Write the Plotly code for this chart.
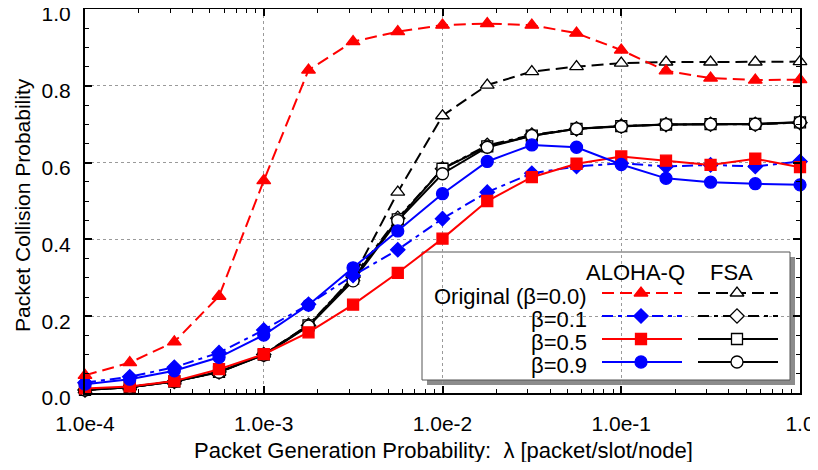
import plotly.graph_objects as go

# ---------------- data ----------------
lam = [1e-4, 1.78e-4, 3.16e-4, 5.62e-4, 1e-3, 1.78e-3, 3.16e-3, 5.62e-3, 1e-2,
       1.78e-2, 3.16e-2, 5.62e-2, 1e-1, 1.78e-1, 3.16e-1, 5.62e-1, 1.0]

aloha_b00 = [0.046, 0.079, 0.133, 0.252, 0.553, 0.841, 0.915, 0.941, 0.958,
             0.962, 0.958, 0.937, 0.893, 0.839, 0.820, 0.815, 0.816]
aloha_b01 = [0.027, 0.042, 0.067, 0.105, 0.164, 0.231, 0.306, 0.373, 0.454,
             0.523, 0.572, 0.590, 0.598, 0.590, 0.594, 0.590, 0.603]
aloha_b05 = [0.012, 0.017, 0.031, 0.062, 0.101, 0.158, 0.230, 0.313, 0.402,
             0.500, 0.562, 0.597, 0.616, 0.605, 0.594, 0.610, 0.588]
aloha_b09 = [0.023, 0.036, 0.058, 0.093, 0.151, 0.229, 0.326, 0.422, 0.519,
             0.603, 0.646, 0.640, 0.595, 0.559, 0.549, 0.545, 0.542]

fsa_b00 = [0.008, 0.016, 0.031, 0.054, 0.101, 0.177, 0.300, 0.523, 0.722,
           0.802, 0.837, 0.850, 0.859, 0.862, 0.862, 0.862, 0.863]
fsa_b01 = [0.008, 0.015, 0.030, 0.055, 0.100, 0.176, 0.302, 0.455, 0.584,
           0.645, 0.672, 0.688, 0.695, 0.699, 0.700, 0.700, 0.704]
fsa_b05 = [0.008, 0.015, 0.030, 0.055, 0.100, 0.176, 0.298, 0.452, 0.584,
           0.642, 0.670, 0.688, 0.695, 0.699, 0.700, 0.701, 0.705]
fsa_b09 = [0.008, 0.015, 0.030, 0.054, 0.099, 0.174, 0.292, 0.449, 0.571,
           0.640, 0.670, 0.688, 0.694, 0.699, 0.700, 0.700, 0.705]

y_ticks = [0.0, 0.2, 0.4, 0.6, 0.8, 1.0]
y_tick_labels = ["0.0", "0.2", "0.4", "0.6", "0.8", "1.0"]
x_ticks = [1e-4, 1e-3, 1e-2, 1e-1, 1.0]
x_tick_labels = ["1.0e-4", "1.0e-3", "1.0e-2", "1.0e-1", "1.0"]

legend_rows = ["Original (β=0.0)", "β=0.1", "β=0.5", "β=0.9"]
legend_headers = ["ALOHA-Q", "FSA"]
x_title = "Packet Generation Probability:  λ [packet/slot/node]"
y_title = "Packet Collision Probability"

RED = "#ff0000"
BLUE = "#0000ff"
BLACK = "#000000"
FONT = "Liberation Sans, Arial, sans-serif"
DASH = "12px,6px"
DASHDOT = "11px,5px,4px,5px"

# (series, color, dash, symbol, filled)
fsa_styles = [
    (fsa_b00, BLACK, DASH, "triangle-up", False),
    (fsa_b01, BLACK, DASHDOT, "diamond", False),
    (fsa_b05, BLACK, "solid", "square", False),
    (fsa_b09, BLACK, "solid", "circle", False),
]
aloha_styles = [
    (aloha_b00, RED, DASH, "triangle-up", True),
    (aloha_b01, BLUE, DASHDOT, "diamond", True),
    (aloha_b05, RED, "solid", "square", True),
    (aloha_b09, BLUE, "solid", "circle", True),
]
msize = {"triangle-up": 12, "diamond": 11, "square": 11, "circle": 12}

fig = go.Figure()


def marker_for(color, symbol, filled):
    return dict(symbol=symbol, size=msize[symbol],
                color=color if filled else "white",
                line=dict(color=color, width=1.3))


draw_order = fsa_styles + [aloha_styles[1], aloha_styles[2], aloha_styles[3], aloha_styles[0]]
for ys, col, dash, sym, filled in draw_order:
    fig.add_trace(go.Scatter(
        x=lam, y=ys, mode="lines+markers", cliponaxis=False,
        line=dict(color=col, width=2, dash=dash),
        marker=marker_for(col, sym, filled), showlegend=False, hoverinfo="skip"))

# ---------------- layout geometry ----------------
# The page body adds an 8px margin; figure offsets compensate for it.
W, H = 810, 454
PX0, PX1, PY0, PY1 = 85, 800, 9, 393          # plot area in window pixels
OFF = 8
ML, MT = PX0 - OFF, PY0 - OFF
MR, MB = W - (PX1 - OFF), H - (PY1 - OFF)


def px2paper_x(px):
    return (px - PX0) / (PX1 - PX0)


def px2paper_y(py):
    return (PY1 - py) / (PY1 - PY0)


# ---------------- custom legend (helper overlay axis in window-pixel units) -------------
LX0, LX1, LY0, LY1 = 422, 790, 252, 380
fig.add_shape(type="rect", xref="paper", yref="paper", layer="between",
              x0=px2paper_x(LX0 + 5), x1=px2paper_x(LX1 + 5),
              y0=px2paper_y(LY1 + 5), y1=px2paper_y(LY0 + 5),
              fillcolor="#8c8c8c", line=dict(width=0))
fig.add_shape(type="rect", xref="paper", yref="paper", layer="between",
              x0=px2paper_x(LX0), x1=px2paper_x(LX1),
              y0=px2paper_y(LY1), y1=px2paper_y(LY0),
              fillcolor="white", line=dict(color="#555555", width=1))

row_y = [293, 316, 339, 362]
cols = [(602, 682, 641, aloha_styles), (698, 778, 737, fsa_styles)]
for xa, xb, xm, styles in cols:
    for i, (ys, col, dash, sym, filled) in enumerate(styles):
        fig.add_trace(go.Scatter(
            x=[xa, xb], y=[row_y[i], row_y[i]], xaxis="x2", yaxis="y2",
            mode="lines", line=dict(color=col, width=2, dash=dash),
            showlegend=False, hoverinfo="skip"))
        fig.add_trace(go.Scatter(
            x=[xm], y=[row_y[i]], xaxis="x2", yaxis="y2", mode="markers",
            marker=marker_for(col, sym, filled), showlegend=False, hoverinfo="skip"))

for (xa, xb, xm, _), hdr in zip(cols, legend_headers):
    fig.add_annotation(x=xm - 6, y=272, xref="x2", yref="y2", text=hdr, showarrow=False,
                       font=dict(family=FONT, size=22, color="black"))
for i, lab in enumerate(legend_rows):
    fig.add_annotation(x=589, y=row_y[i] + 3, xref="x2", yref="y2", text=lab,
                       showarrow=False, xanchor="right",
                       font=dict(family=FONT, size=22, color="black"))

# axis titles as annotations for exact placement
fig.add_annotation(x=px2paper_x(443), y=px2paper_y(450), xref="paper", yref="paper",
                   text=x_title, showarrow=False, xanchor="center", yanchor="middle",
                   font=dict(family=FONT, size=22, color="black"))
fig.add_annotation(x=px2paper_x(22), y=px2paper_y(205), xref="paper", yref="paper",
                   text=y_title, showarrow=False, xanchor="center", yanchor="middle",
                   textangle=-90, font=dict(family=FONT, size=21, color="black"))

fig.update_layout(
    width=W, height=H,
    margin=dict(l=ML, r=MR, t=MT, b=MB, autoexpand=False),
    paper_bgcolor="white", plot_bgcolor="white",
    font=dict(family=FONT, size=20, color="black"),
    xaxis=dict(type="log", range=[-4, 0], tickvals=x_ticks, ticktext=x_tick_labels,
               automargin=False, ticklabeloverflow="allow",
               showline=True, linecolor="black", linewidth=2, mirror="allticks",
               ticks="inside", ticklen=7, tickwidth=1.5, tickcolor="black",
               showgrid=True, gridcolor="#9a9a9a", griddash="dot", gridwidth=1,
               zeroline=False, ticklabelstandoff=11,
               minor=dict(ticks="inside", ticklen=4, tickwidth=1.2, tickcolor="black",
                          dtick="D1", showgrid=False),
               tickfont=dict(size=21)),
    yaxis=dict(range=[0, 1], tickvals=y_ticks, ticktext=y_tick_labels,
               automargin=False, ticklabeloverflow="allow",
               showline=True, linecolor="black", linewidth=2, mirror="allticks",
               ticks="inside", ticklen=7, tickwidth=1.5, tickcolor="black",
               showgrid=True, gridcolor="#9a9a9a", griddash="dot", gridwidth=1,
               zeroline=False, ticklabelshift=5, ticklabelstandoff=8,
               minor=dict(ticks="inside", ticklen=4, tickwidth=1.2, tickcolor="black",
                          dtick=0.05, showgrid=False),
               tickfont=dict(size=21)),
    xaxis2=dict(range=[PX0, PX1], anchor="y2", overlaying="x", visible=False,
                showgrid=False, zeroline=False, fixedrange=True),
    yaxis2=dict(range=[PY1, PY0], anchor="x2", overlaying="y", visible=False,
                showgrid=False, zeroline=False, fixedrange=True),
)

fig.write_html("out.html")
